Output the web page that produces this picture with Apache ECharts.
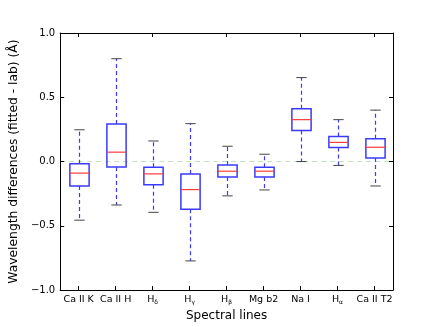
<!DOCTYPE html>
<html><head><meta charset="utf-8">
<script src="https://cdn.jsdelivr.net/npm/echarts@6/dist/echarts.min.js"></script>
<style>html,body{margin:0;padding:0;background:#fff}#c{width:436px;height:327px}</style>
</head><body><div id="c"></div>
<script>
const categories = ['Ca II K','Ca II H','H_δ','H_γ','H_β','Mg b2','Na I','H_α','Ca II T2'];
const whiskerLow  = [-0.456, -0.338, -0.395, -0.773, -0.267, -0.221, 0.000, -0.030, -0.190];
const q1          = [-0.190, -0.042, -0.180, -0.372, -0.121, -0.121, 0.241,  0.109,  0.027];
const median      = [-0.090,  0.073, -0.096, -0.218, -0.075, -0.075, 0.326,  0.149,  0.111];
const q3          = [-0.017,  0.293, -0.045, -0.096, -0.027, -0.045, 0.410,  0.195,  0.178];
const whiskerHigh = [ 0.247,  0.800,  0.160,  0.295,  0.119,  0.057, 0.653,  0.326,  0.400];
const yTicks = [-1.0, -0.5, 0.0, 0.5, 1.0];

const FONT = 'DejaVu Sans';
const boxData = categories.map((c, i) => [i, whiskerLow[i], q1[i], median[i], q3[i], whiskerHigh[i]]);

function catLabel(v) {
  const m = v.match(/^H_(.)$/);
  if (m) return 'H{sub|' + m[1] + '}';
  return v;
}
function yLabel(v) {
  return v.toFixed(1).replace('-', '\u2212');
}

function renderItem(params, api) {
  const x = api.value(0);
  const pLow = api.coord([x, api.value(1)]);
  const pQ1 = api.coord([x, api.value(2)]);
  const pMed = api.coord([x, api.value(3)]);
  const pQ3 = api.coord([x, api.value(4)]);
  const pHigh = api.coord([x, api.value(5)]);
  const band = api.size([1, 0])[0];
  const bw = band * 0.52, cw = band * 0.28;
  const cx = Math.round(pQ1[0]) + 0.5;
  const blue = '#3a3aff';
  const dash = { stroke: blue, lineWidth: 1.2, lineDash: [4, 3] };
  const cap = { stroke: '#444', lineWidth: 1 };
  return {
    type: 'group',
    children: [
      { type: 'line', shape: { x1: cx, y1: pQ3[1], x2: cx, y2: pHigh[1] }, style: dash },
      { type: 'line', shape: { x1: cx, y1: pQ1[1], x2: cx, y2: pLow[1] }, style: dash },
      { type: 'line', shape: { x1: cx - cw / 2, y1: pHigh[1], x2: cx + cw / 2, y2: pHigh[1] }, style: cap },
      { type: 'line', shape: { x1: cx - cw / 2, y1: pLow[1], x2: cx + cw / 2, y2: pLow[1] }, style: cap },
      { type: 'rect', shape: { x: cx - bw / 2, y: pQ3[1], width: bw, height: pQ1[1] - pQ3[1] },
        style: { fill: 'none', stroke: blue, lineWidth: 1.5 } },
      { type: 'line', shape: { x1: cx - bw / 2, y1: pMed[1], x2: cx + bw / 2, y2: pMed[1] },
        style: { stroke: '#ff3b3b', lineWidth: 1.2 } }
    ]
  };
}

const chart = echarts.init(document.getElementById('c'), null, { renderer: 'canvas' });
const axisLine = { show: true, onZero: false, lineStyle: { color: '#000', width: 1 } };
chart.setOption({
  animation: false,
  backgroundColor: '#fff',
  textStyle: { fontFamily: FONT },
  grid: { left: 55, right: 43, top: 33, bottom: 33 },
  xAxis: [{
    type: 'category', data: categories, position: 'bottom',
    boundaryGap: true,
    axisLine: axisLine,
    axisTick: { show: true, inside: true, length: 4, alignWithLabel: true, lineStyle: { color: '#000' } },
    axisLabel: {
      margin: 4, color: '#000', fontSize: 9.5, fontFamily: FONT, interval: 0,
      formatter: catLabel,
      rich: { sub: { fontSize: 6, fontFamily: FONT, color: '#000', padding: [5, 0, 0, 0] } }
    },
    splitLine: { show: false },
    name: 'Spectral lines', nameLocation: 'middle', nameGap: 18,
    nameTextStyle: { fontSize: 12, color: '#000', fontFamily: FONT }
  }, {
    type: 'category', data: categories, position: 'top',
    boundaryGap: true,
    axisLine: axisLine,
    axisTick: { show: true, inside: true, length: 4, alignWithLabel: true, lineStyle: { color: '#000' } },
    axisLabel: { show: false }, splitLine: { show: false }
  }],
  yAxis: [{
    type: 'value', min: -1, max: 1, interval: 0.5, position: 'left',
    axisLine: axisLine,
    axisTick: { show: true, inside: true, length: 4, lineStyle: { color: '#000' } },
    axisLabel: { color: '#000', fontSize: 10, fontFamily: FONT, margin: 5,
      formatter: v => yTicks.some(t => Math.abs(t - v) < 1e-9) ? yLabel(v) : '' },
    splitLine: { show: true, lineStyle: {
      color: ['rgba(0,0,0,0)', 'rgba(0,0,0,0)', '#bfe3bf', 'rgba(0,0,0,0)', 'rgba(0,0,0,0)'],
      type: [5, 4], width: 1 } },
    name: 'Wavelength differences (fitted - lab) (Å)', nameLocation: 'middle', nameGap: 33,
    nameRotate: 90,
    nameTextStyle: { fontSize: 12.3, color: '#000', fontFamily: FONT }
  }, {
    type: 'value', min: -1, max: 1, interval: 0.5, position: 'right',
    axisLine: axisLine,
    axisTick: { show: true, inside: true, length: 4, lineStyle: { color: '#000' } },
    axisLabel: { show: false }, splitLine: { show: false }
  }],
  series: [{
    type: 'custom',
    xAxisIndex: 0, yAxisIndex: 0,
    renderItem: renderItem,
    data: boxData,
    encode: { x: 0, y: [1, 2, 3, 4, 5] },
    z: 3
  }]
});
</script></body></html>
